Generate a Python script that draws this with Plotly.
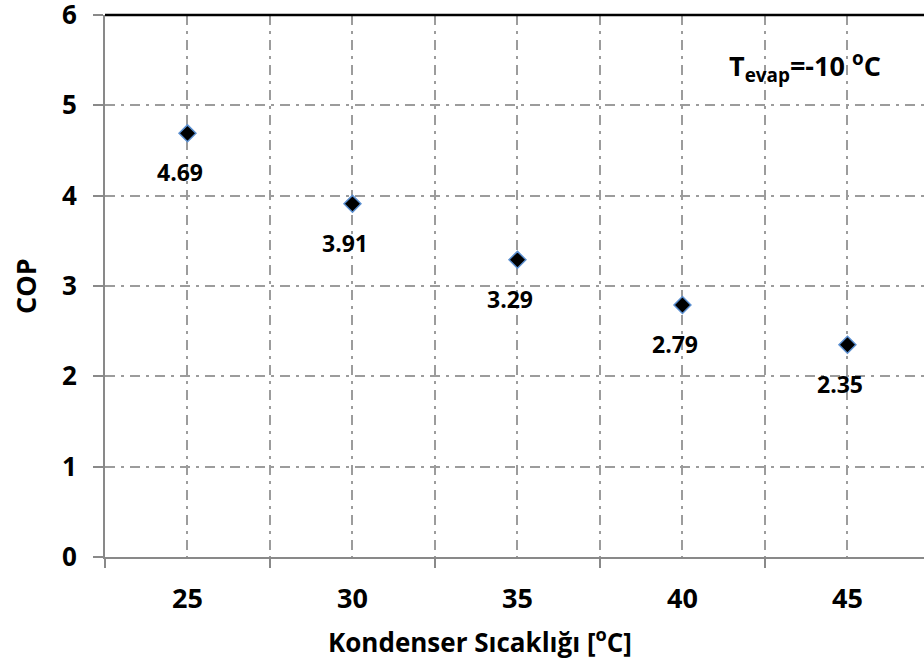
import plotly.graph_objects as go

# Data
kondenser_sicakligi = [25, 30, 35, 40, 45]
cop = [4.69, 3.91, 3.29, 2.79, 2.35]
cop_labels = ["4.69", "3.91", "3.29", "2.79", "2.35"]
x_tickvals = [25, 30, 35, 40, 45]
y_tickvals = [0, 1, 2, 3, 4, 5, 6]

FONT = "Open Sans"
GRID = "#9C9C9C"
AXIS = "#898989"
DASH = "10px,6px,3px,6px"

fig = go.Figure()
fig.add_trace(go.Scatter(
    x=kondenser_sicakligi, y=cop, mode="markers",
    marker=dict(symbol="diamond", size=13, color="black",
                line=dict(color="#5B8FD0", width=1.5)),
    showlegend=False, hoverinfo="x+y",
))

for xv, yv, lab in zip(kondenser_sicakligi, cop, cop_labels):
    fig.add_annotation(x=xv, y=yv, text=lab, showarrow=False,
                       xanchor="center", yanchor="middle",
                       xshift=-7, yshift=-39,
                       font=dict(family=FONT, size=23, color="black", weight="bold"))

fig.add_annotation(xref="paper", yref="paper", x=0.855, y=0.905,
                   xanchor="center", yanchor="middle",
                   text="T<sub>evap</sub>=-10 <sup>o</sup>C", showarrow=False,
                   font=dict(family=FONT, size=27, color="black", weight="bold"))

fig.add_annotation(xref="paper", yref="paper", x=0.458, y=0, yshift=-84,
                   xanchor="center", yanchor="middle",
                   text="Kondenser Sıcaklığı [<sup>o</sup>C]", showarrow=False,
                   font=dict(family=FONT, size=26, color="black", weight="bold"))

fig.add_annotation(xref="paper", yref="paper", x=0, y=0.5, xshift=-80,
                   xanchor="center", yanchor="middle",
                   text="COP", textangle=-90, showarrow=False,
                   font=dict(family=FONT, size=27, color="black", weight="bold"))

# top border line
fig.add_shape(type="line", xref="paper", yref="paper", x0=0, x1=1, y0=1, y1=1,
              line=dict(color="black", width=2.5))

fig.update_layout(
    width=924, height=659,
    margin=dict(l=105, r=0, t=15, b=102),
    plot_bgcolor="white", paper_bgcolor="white",
    xaxis=dict(
        range=[22.5, 47.32], tickvals=x_tickvals, ticks="",
        showgrid=True, gridcolor=GRID, griddash=DASH, gridwidth=1.5,
        showline=True, linecolor=AXIS, linewidth=2,
        zeroline=False, ticklabelstandoff=17, automargin=False,
        ticklabeloverflow="allow",
        tickfont=dict(family=FONT, size=27, color="black", weight="bold"),
        minor=dict(tick0=22.5, dtick=5, ticks="outside", ticklen=9,
                   tickcolor=AXIS, tickwidth=2, showgrid=True,
                   gridcolor=GRID, griddash=DASH, gridwidth=1.5),
    ),
    yaxis=dict(
        range=[0, 6], tickvals=y_tickvals, ticks="outside", ticklen=10,
        tickcolor=AXIS, tickwidth=2,
        showgrid=True, gridcolor=GRID, griddash=DASH, gridwidth=1.5,
        showline=True, linecolor=AXIS, linewidth=2, zeroline=False,
        ticklabelstandoff=11, automargin=False,
        ticklabeloverflow="allow",
        tickfont=dict(family=FONT, size=26, color="black", weight="bold"),
    ),
)

fig.write_html("out.html", config={"displayModeBar": False},
               post_script="document.body.style.margin='0';")
